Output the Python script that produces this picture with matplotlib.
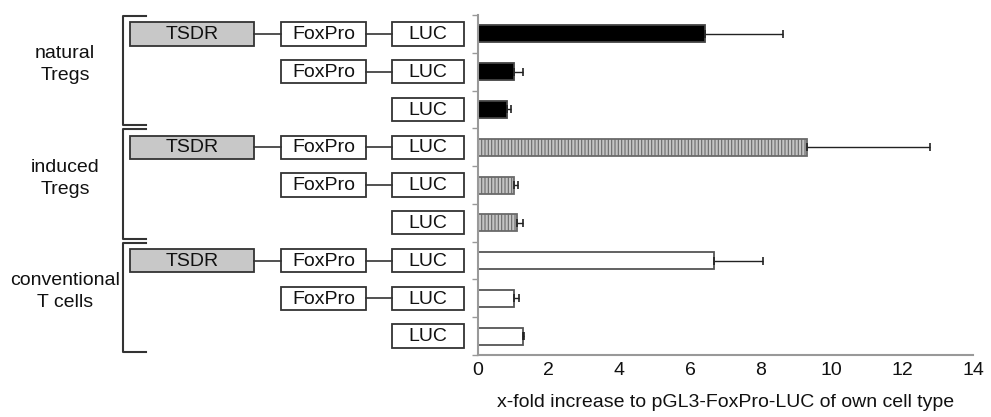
import numpy as np
import matplotlib
matplotlib.use('Agg')
import matplotlib.pyplot as plt
from matplotlib.patches import Rectangle
from matplotlib.transforms import blended_transform_factory

plt.rcParams['font.family'] = ['Liberation Sans', 'DejaVu Sans']
plt.rcParams['hatch.linewidth'] = 0.8

# data
groups = ['natural\nTregs', 'induced\nTregs', 'conventional\nT cells']
constructs = [['TSDR', 'FoxPro', 'LUC'], ['FoxPro', 'LUC'], ['LUC']] * 3
values = [6.42, 1.02, 0.83, 9.31, 1.03, 1.09, 6.67, 1.03, 1.26]
errors = [2.21, 0.26, 0.09, 3.47, 0.11, 0.19, 1.39, 0.13, 0.04]
xticks = [0, 2, 4, 6, 8, 10, 12, 14]
xlabel = 'x-fold increase to pGL3-FoxPro-LUC of own cell type'

W, H = 991, 417
fig = plt.figure(figsize=(W / 100, H / 100), dpi=100)
ax = fig.add_axes([478 / W, (H - 355) / H, (973 - 478) / W, 340 / H])

y = np.arange(len(values))
styles = [dict(color='black', edgecolor='#444444', hatch=None),
          dict(color='#c4c4c4', edgecolor='#6a6a6a', hatch='|||||'),
          dict(color='white', edgecolor='#555555', hatch=None)]
for g in range(3):
    sl = slice(g * 3, g * 3 + 3)
    st = styles[g]
    err = np.array(errors[sl])
    # one-sided error bars, as in the reference
    ax.barh(y[sl], values[sl], height=0.45, color=st['color'],
            edgecolor=st['edgecolor'], hatch=st['hatch'], linewidth=1.3,
            xerr=[np.zeros_like(err), err],
            error_kw=dict(ecolor='#222222', elinewidth=1.0, capsize=3, capthick=1.2))

ax.set_xlim(0, 14)
ax.set_ylim(len(values) - 0.5, -0.5)
ax.set_xticks(xticks)
ax.tick_params(axis='x', length=0, labelsize=14, pad=5, labelcolor='#111111')
ax.set_yticks([])
ax.set_yticks(np.arange(-0.5, len(values), 1.0), minor=True)
ax.tick_params(axis='y', which='minor', length=4, color='#999999', width=1)
for s in ['top', 'right']:
    ax.spines[s].set_visible(False)
for s in ['left', 'bottom']:
    ax.spines[s].set_color('#999999')
    ax.spines[s].set_linewidth(1.5)
ax.set_xlabel(xlabel, fontsize=14, labelpad=11, color='#111111')

# construct diagrams on the left, x in figure pixels, y in data rows
tr = blended_transform_factory(fig.transFigure, ax.transData)
box_x = {'TSDR': (130, 254), 'FoxPro': (281, 366), 'LUC': (392, 464)}
box_h = 0.62
for row, parts in enumerate(constructs):
    for i, name in enumerate(parts):
        x0, x1 = box_x[name]
        fc = '#c8c8c8' if name == 'TSDR' else 'white'
        ax.add_patch(Rectangle((x0 / W, row - box_h / 2), (x1 - x0) / W, box_h,
                               transform=tr, facecolor=fc, edgecolor='#333333',
                               linewidth=1.3, clip_on=False))
        ax.text((x0 + x1) / 2 / W, row + 0.02, name, transform=tr, ha='center',
                va='center', fontsize=14, color='#111111', clip_on=False)
        if i > 0:
            px1 = box_x[parts[i - 1]][1]
            ax.plot([px1 / W, x0 / W], [row, row], transform=tr, color='#333333',
                    linewidth=1.2, clip_on=False)

# brackets and group labels
for g, label in enumerate(groups):
    top = g * 3 - 0.47
    bot = g * 3 + 2 + 0.42
    ax.plot([146 / W, 123 / W, 123 / W, 146 / W], [top, top, bot, bot],
            transform=tr, color='#333333', linewidth=1.5, clip_on=False)
    ax.text(65 / W, g * 3 + 0.82, label, transform=tr, ha='center', va='center',
            fontsize=14, color='#111111', linespacing=1.4, clip_on=False)

fig.savefig('out.png', dpi=100)
